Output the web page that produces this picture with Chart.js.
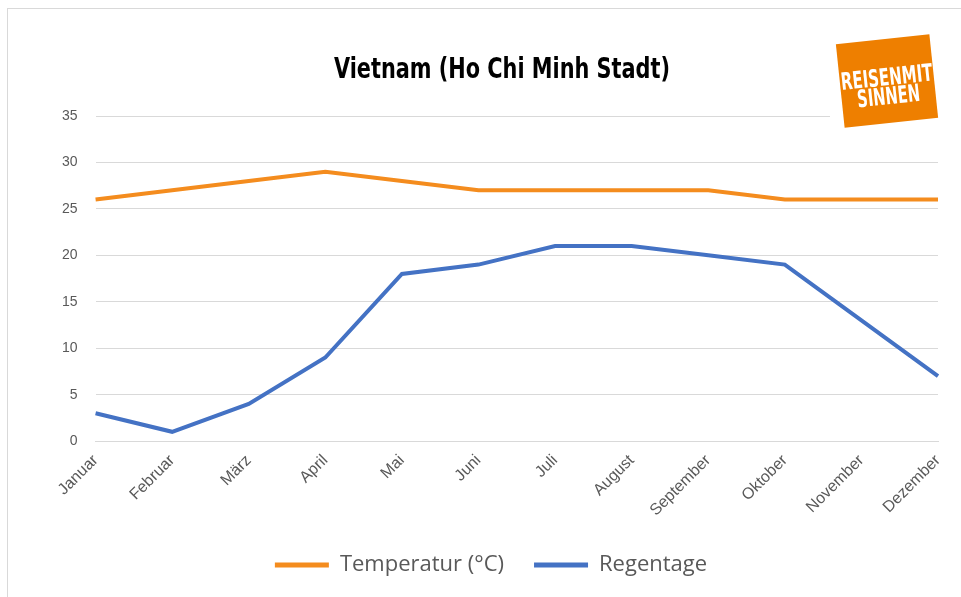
<!DOCTYPE html>
<html>
<head>
<meta charset="utf-8">
<script src="https://cdn.jsdelivr.net/npm/chart.js@4/dist/chart.umd.min.js"></script>
<style>
  body { margin: 0; background: #fff; }
  #frame { position: absolute; left: 7px; top: 8px; width: 960px; height: 600px;
           border-left: 1px solid #d9d9d9; border-top: 1px solid #d9d9d9; }
  canvas { position: absolute; left: 0; top: 0; }
</style>
</head>
<body>
<div id="frame"></div>
<canvas id="chart" width="961" height="597"></canvas>
<script>
const months = ['Januar', 'Februar', 'März', 'April', 'Mai', 'Juni', 'Juli',
  'August', 'September', 'Oktober', 'November', 'Dezember'];
const temperatur = [26, 27, 28, 29, 28, 27, 27, 27, 27, 26, 26, 26];
const regentage = [3, 1, 4, 9, 18, 19, 21, 21, 20, 19, 13, 7];
const titleText = 'Vietnam (Ho Chi Minh Stadt)';

const gray = '#595959';
const orange = '#F48C1E';
const blue = '#4472C4';
const condensed = '"DejaVu Sans Condensed", "DejaVu Sans"';

// draw text squeezed/stretched to a given width
function fitText(c, text, x, y, width) {
  const w = c.measureText(text).width;
  c.save();
  c.translate(x, y);
  c.scale(width / w, 1);
  c.fillText(text, 0, 0);
  c.restore();
}

// title and logo drawn by hand
const decoPlugin = {
  id: 'deco',
  afterDraw(chart) {
    const c = chart.ctx;
    c.save();
    c.fillStyle = '#000';
    c.textAlign = 'center';
    c.textBaseline = 'middle';
    c.font = 'bold 29px ' + condensed;
    fitText(c, titleText, 502, 70, 336);

    c.fillStyle = '#fff';
    c.fillRect(830, 25, 131, 105);
    c.translate(887, 81);
    c.rotate(-6 * Math.PI / 180);
    c.fillStyle = '#EE7F00';
    c.fillRect(-47, -42, 94, 84);
    c.fillStyle = '#fff';
    c.font = 'bold 24px ' + condensed;
    fitText(c, 'REISENMIT', 0, -2, 92);
    fitText(c, 'SINNEN', 0, 17, 63);
    c.restore();
  }
};

const ctx = document.getElementById('chart').getContext('2d');
new Chart(ctx, {
  type: 'line',
  data: {
    labels: months,
    datasets: [{
      label: 'Temperatur (°C)',
      data: temperatur,
      borderColor: orange,
      backgroundColor: orange,
      borderWidth: 4,
      pointRadius: 0,
      tension: 0
    }, {
      label: 'Regentage',
      data: regentage,
      borderColor: blue,
      backgroundColor: blue,
      borderWidth: 4,
      pointRadius: 0,
      tension: 0
    }]
  },
  options: {
    responsive: false,
    animation: false,
    layout: { padding: { left: 44, right: 23, top: 116, bottom: 11 } },
    plugins: {
      title: { display: false },
      legend: {
        position: 'bottom',
        labels: {
          color: gray,
          font: { family: '"Open Sans"', size: 22 },
          boxWidth: 54,
          boxHeight: 5,
          padding: 30,
          generateLabels(chart) {
            const items = Chart.defaults.plugins.legend.labels.generateLabels(chart);
            items.forEach(it => { it.lineWidth = 0; });
            return items;
          }
        }
      },
      tooltip: { enabled: false }
    },
    scales: {
      x: {
        offset: false,
        grid: { display: false },
        border: { color: '#d9d9d9' },
        afterFit(scale) { scale.height += 2; },
        ticks: {
          color: gray,
          font: { family: '"Liberation Sans"', size: 16 },
          minRotation: 45,
          maxRotation: 45,
          padding: 2
        }
      },
      y: {
        min: 0,
        max: 35,
        grid: { color: '#d9d9d9', drawTicks: false },
        border: { display: false },
        ticks: {
          stepSize: 5,
          color: gray,
          font: { family: '"Liberation Sans"', size: 14 },
          padding: 18
        }
      }
    }
  },
  plugins: [decoPlugin]
});
</script>
</body>
</html>
